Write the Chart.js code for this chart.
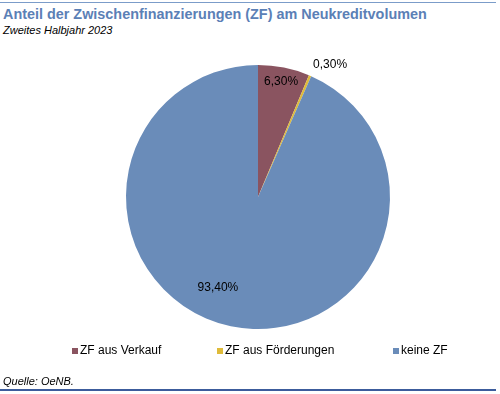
<!DOCTYPE html>
<html>
<head>
<meta charset="utf-8">
<script src="https://cdn.jsdelivr.net/npm/chart.js@4/dist/chart.umd.min.js"></script>
<style>
  html, body { margin: 0; padding: 0; background: #fff; }
  body { width: 500px; height: 394px; position: relative; overflow: hidden; font-family: "Liberation Sans", Arial, sans-serif; }
  #topline { position: absolute; left: 0; top: 2px; width: 496px; height: 1px; background: #7b9cc9; }
  #title { position: absolute; left: 3px; top: 6px; font-size: 14.4px; font-weight: bold; color: #5b80b6; white-space: nowrap; }
  #subtitle { position: absolute; left: 3px; top: 24px; font-size: 11px; font-style: italic; color: #000; }
  #source { position: absolute; left: 3px; top: 375px; font-size: 11px; font-style: italic; color: #000; }
  #bottomline { position: absolute; left: 0; top: 389px; width: 496px; height: 2px; background: #3c5c9c; }
  #wrap { position: absolute; left: 0; top: 0; width: 500px; height: 394px; }
</style>
</head>
<body>
<div id="topline"></div>
<div id="title">Anteil der Zwischenfinanzierungen (ZF) am Neukreditvolumen</div>
<div id="subtitle">Zweites Halbjahr 2023</div>
<div id="wrap"><canvas id="grafico" width="500" height="394"></canvas></div>
<div id="source">Quelle: OeNB.</div>
<div id="bottomline"></div>

<script>
const kategorien = ['ZF aus Verkauf', 'ZF aus Förderungen', 'keine ZF'];
const anteile = [6.3, 0.3, 93.4];
const beschriftungen = ['6,30%', '0,30%', '93,40%'];
const farben = ['#8a5460', '#dfbb3a', '#6a8cb9'];

// Lage der Prozentangaben: Anteil vom Radius und Winkelversatz in Grad
const labelPos = [
  { r: 0.89, da: 0 },
  { r: 1.14, da: 5.4 },
  { r: 0.75, da: 12 }
];

const prozentPlugin = {
  id: 'prozent',
  afterDatasetsDraw(chart) {
    const ctx = chart.ctx;
    const meta = chart.getDatasetMeta(0);
    ctx.save();
    ctx.font = '12px "Liberation Sans", Arial, sans-serif';
    ctx.fillStyle = '#000';
    ctx.textAlign = 'center';
    ctx.textBaseline = 'middle';
    meta.data.forEach(function(arc, i) {
      const p = arc.getProps(['x', 'y', 'startAngle', 'endAngle', 'outerRadius'], true);
      const mitte = (p.startAngle + p.endAngle) / 2 + labelPos[i].da * Math.PI / 180;
      const rr = p.outerRadius * labelPos[i].r;
      ctx.fillText(beschriftungen[i], p.x + Math.cos(mitte) * rr, p.y + Math.sin(mitte) * rr);
    });
    ctx.restore();
  }
};

const legendePlugin = {
  id: 'legende',
  afterDraw(chart) {
    const ctx = chart.ctx;
    const xs = [72, 217, 393];
    const y = 351;
    ctx.save();
    ctx.font = '12px "Liberation Sans", Arial, sans-serif';
    ctx.textBaseline = 'middle';
    ctx.textAlign = 'left';
    chart.data.labels.forEach(function(lab, i) {
      ctx.fillStyle = chart.data.datasets[0].backgroundColor[i];
      ctx.fillRect(xs[i], y - 3, 6, 6);
      ctx.fillStyle = '#000';
      ctx.fillText(lab, xs[i] + 8, y);
    });
    ctx.restore();
  }
};

new Chart(document.getElementById('grafico').getContext('2d'), {
  type: 'pie',
  data: {
    labels: kategorien,
    datasets: [{
      data: anteile,
      backgroundColor: farben,
      borderWidth: 0
    }]
  },
  options: {
    responsive: false,
    animation: false,
    layout: { padding: { left: 126, right: 110, top: 65, bottom: 65 } },
    plugins: {
      legend: { display: false },
      tooltip: { enabled: false }
    }
  },
  plugins: [prozentPlugin, legendePlugin]
});
</script>
</body>
</html>
